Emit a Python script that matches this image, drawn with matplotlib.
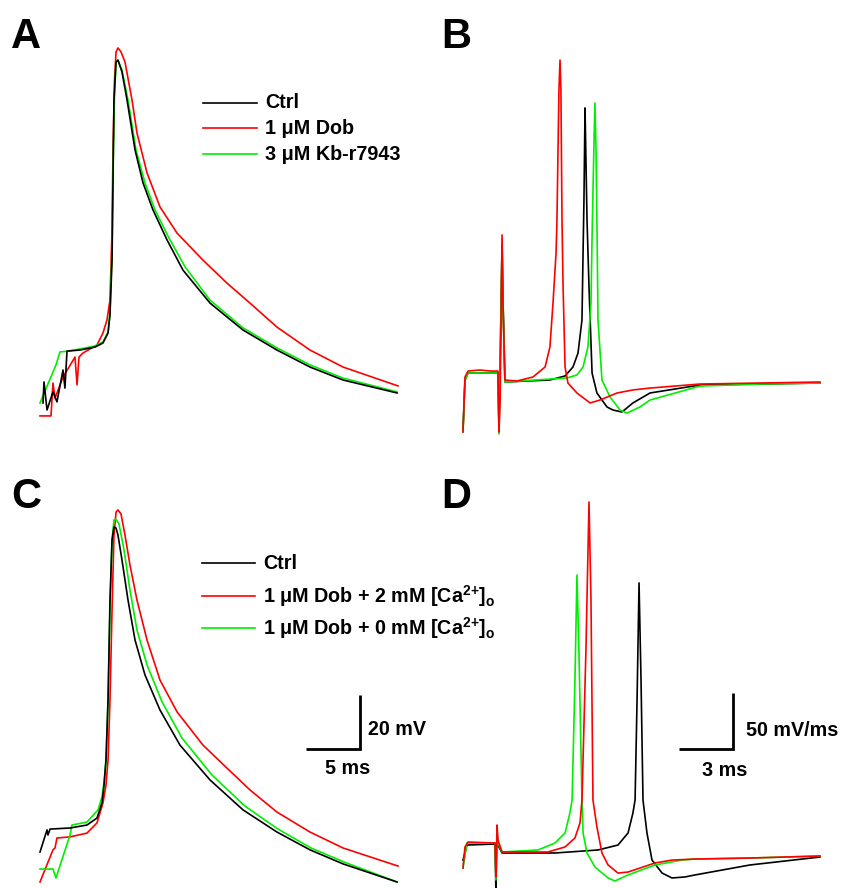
import matplotlib
matplotlib.use("Agg")
import matplotlib.pyplot as plt
from matplotlib.lines import Line2D

plt.rcParams['font.family'] = ['Liberation Sans', 'DejaVu Sans']
plt.rcParams['font.weight'] = 'bold'
plt.rcParams['mathtext.fontset'] = 'custom'
plt.rcParams['mathtext.rm'] = 'Liberation Sans:bold'
plt.rcParams['mathtext.it'] = 'Liberation Sans:bold'
plt.rcParams['mathtext.bf'] = 'Liberation Sans:bold'

# ---------------- data (time in ms, membrane potential in mV) ----------------
# Panel A
a_ctrl_t = [0.28, 0.37, 0.65, 1.20, 1.57, 2.13, 2.31, 2.50, 3.70, 5.09, 5.83, 6.30, 6.48, 6.67, 6.76, 6.85,
            7.04, 7.22, 7.59, 8.06, 8.80, 9.54, 10.46, 11.76, 13.24, 15.74, 18.80, 21.94, 25.00, 28.06, 33.06]
a_ctrl_v = [-84.8, -77.0, -87.4, -80.7, -84.4, -72.6, -79.3, -65.6, -65.2, -64.1, -62.6, -58.9, -52.2, -31.9,
            -2.2, 27.4, 41.5, 42.2, 37.8, 27.4, 8.9, -3.3, -13.3, -24.4, -35.6, -47.8, -57.8, -65.2, -71.5,
            -76.3, -81.1]
a_dob_t = [0.0, 1.02, 1.20, 1.39, 2.13, 3.24, 3.43, 3.61, 3.98, 5.28, 5.83, 6.20, 6.48, 6.67, 6.76, 6.90,
           7.04, 7.22, 7.50, 7.87, 8.52, 8.98, 9.91, 11.11, 12.69, 15.09, 17.31, 19.44, 21.94, 25.00, 28.06,
           33.15]
a_dob_v = [-89.6, -89.6, -77.4, -83.0, -75.2, -67.8, -78.1, -67.8, -66.3, -63.3, -58.9, -54.1, -46.7, -20.7,
           8.9, 34.8, 45.2, 46.7, 45.2, 41.5, 27.4, 15.2, 0.4, -12.2, -21.9, -31.9, -40.4, -47.8, -56.7, -65.2,
           -71.5, -78.5]
a_kb_t = [0.0, 1.48, 1.85, 2.59, 3.70, 5.09, 5.83, 6.30, 6.48, 6.67, 6.76, 6.90, 7.04, 7.22, 7.59, 8.15,
          8.89, 9.72, 10.65, 11.94, 13.43, 15.74, 18.80, 21.94, 25.00, 28.06, 33.06]
a_kb_v = [-84.8, -70.7, -65.9, -65.6, -64.8, -63.7, -62.2, -58.5, -51.1, -28.1, 1.5, 29.3, 41.5, 42.2, 38.5,
          27.4, 8.9, -3.3, -13.3, -23.7, -34.4, -46.7, -57.0, -64.4, -70.7, -75.6, -80.7]

# Panel B (time in ms, dV/dt in mV/ms)
b_ctrl_t = [0.0, 0.11, 0.28, 1.94, 2.00, 2.17, 2.22, 2.33, 4.83, 5.67, 6.11, 6.39, 6.61, 6.67, 6.72, 6.78,
            6.83, 6.89, 7.00, 7.17, 7.44, 8.00, 8.33, 8.83, 9.44, 10.39, 13.17, 16.5, 19.83]
b_ctrl_d = [-43.8, 0.9, 7.1, 7.1, -45.5, 121.4, 72.3, -0.9, 0.9, 4.5, 12.5, 25.0, 54.5, 114.3, 161.6, 243.8,
            197.3, 143.8, 83.9, 7.1, -10.7, -23.2, -25.9, -27.7, -19.6, -10.7, -3.6, -2.7, -1.8]
b_dob_t = [0.0, 0.11, 0.28, 0.94, 1.50, 1.94, 2.00, 2.06, 2.17, 2.22, 2.33, 3.00, 3.89, 4.56, 4.83, 5.00,
           5.17, 5.22, 5.33, 5.39, 5.44, 5.50, 5.56, 5.67, 5.83, 6.33, 7.06, 7.61, 8.56, 9.44, 10.39, 13.17,
           16.5, 19.83]
b_dob_d = [-45.5, 3.6, 8.9, 9.8, 8.9, 8.9, -45.5, -17.0, 130.4, 72.3, 0.9, 0.0, 3.6, 12.5, 30.4, 69.6,
           114.3, 143.8, 259.8, 286.6, 259.8, 143.8, 83.9, 12.5, -1.8, -10.7, -19.6, -17.0, -10.7, -8.0,
           -6.3, -2.7, -1.8, -0.9]
b_kb_t = [0.0, 0.11, 0.28, 1.94, 2.00, 2.17, 2.22, 2.33, 5.78, 6.33, 6.67, 6.94, 7.11, 7.17, 7.28, 7.33,
          7.39, 7.44, 7.50, 7.72, 8.17, 8.72, 9.11, 9.83, 10.39, 13.17, 16.5, 19.83]
b_kb_d = [-45.5, 0.9, 7.1, 7.1, -47.3, 123.2, 72.3, -0.9, 2.7, 5.4, 12.5, 30.4, 69.6, 128.6, 215.2, 248.2,
          206.3, 143.8, 54.5, 0.9, -14.3, -25.9, -28.6, -23.2, -17.0, -4.5, -2.7, -1.8]

# Panel C
c_ctrl_t = [0.0, 0.65, 0.74, 0.93, 2.78, 4.35, 5.28, 5.74, 5.93, 6.11, 6.30, 6.48, 6.67, 6.85, 7.04, 7.22,
            7.59, 8.15, 8.80, 9.72, 11.11, 12.96, 15.74, 18.80, 21.94, 25.00, 28.06, 33.06]
c_ctrl_v = [-78.9, -70.7, -72.6, -70.4, -70.0, -68.9, -66.3, -60.7, -54.1, -44.8, -22.6, 14.4, 36.7, 41.5,
            41.1, 38.5, 29.3, 14.4, -0.4, -13.3, -26.3, -39.3, -52.2, -63.3, -71.5, -78.1, -83.3, -90.0]
c_ca2_t = [0.0, 1.20, 1.39, 1.57, 2.78, 4.35, 5.28, 5.83, 6.11, 6.30, 6.48, 6.67, 6.85, 7.04, 7.22, 7.50,
           7.87, 8.33, 8.98, 9.91, 11.11, 12.69, 15.09, 17.31, 19.44, 21.94, 25.00, 28.06, 33.15]
c_ca2_v = [-90.0, -78.1, -77.4, -73.7, -73.3, -71.9, -68.1, -60.7, -54.1, -44.8, -22.6, 10.7, 38.5, 47.0,
           47.8, 46.3, 38.5, 27.4, 14.4, -0.4, -15.2, -27.0, -39.3, -47.8, -55.9, -64.1, -71.5, -77.4, -84.1]
c_ca0_t = [0.0, 1.20, 1.48, 2.78, 2.96, 4.35, 5.37, 5.74, 5.93, 6.11, 6.30, 6.48, 6.67, 6.85, 7.04, 7.31,
           7.78, 8.33, 8.98, 9.91, 11.30, 13.15, 15.93, 18.98, 22.04, 25.09, 28.15, 33.06]
c_ca0_v = [-85.2, -85.2, -88.5, -72.6, -68.9, -67.8, -63.3, -58.5, -53.0, -44.8, -22.6, 10.7, 36.7, 44.1,
           44.4, 42.6, 33.0, 18.1, 3.3, -9.6, -23.3, -36.7, -50.4, -61.9, -70.4, -77.4, -82.6, -90.0]

# Panel D (time in ms, dV/dt in mV/ms)
d_ctrl_t = [0.0, 0.22, 1.78, 1.83, 1.89, 1.94, 2.17, 5.11, 7.50, 8.61, 9.17, 9.44, 9.56, 9.67, 9.78, 9.89,
            10.00, 10.22, 10.50, 11.06, 11.61, 12.33, 12.89, 15.94, 19.83]
d_ctrl_d = [-6.3, 7.1, 8.0, -35.0, 20.5, 7.1, 0.0, 0.0, 2.7, 7.1, 17.9, 35.7, 47.3, 136.6, 241.1, 154.5,
            47.3, 17.9, -6.3, -17.9, -22.3, -21.4, -19.6, -10.7, -3.6]
d_ca2_t = [0.0, 0.11, 0.28, 1.78, 1.83, 1.89, 1.94, 2.17, 3.28, 4.72, 5.67, 6.22, 6.50, 6.61, 6.83, 7.00,
           7.11, 7.22, 7.44, 7.72, 8.06, 8.61, 9.17, 10.67, 11.61, 12.89, 15.94, 19.83]
d_ca2_d = [-13.4, 5.4, 9.8, 8.9, -21.4, 25.0, 11.6, 0.9, 0.9, 0.9, 5.4, 13.4, 26.8, 47.3, 181.3, 313.4,
           225.9, 47.3, 23.2, 0.0, -10.7, -17.9, -17.0, -8.9, -6.3, -5.4, -4.5, -2.7]
d_ca0_t = [0.0, 0.22, 1.78, 1.83, 1.89, 1.94, 2.17, 4.17, 5.11, 5.67, 5.94, 6.06, 6.22, 6.33, 6.44, 6.61,
           6.67, 6.89, 7.33, 8.06, 8.44, 9.17, 10.67, 12.17, 12.89, 15.94, 19.83]
d_ca0_d = [-13.4, 8.9, 8.9, -24.1, 17.9, 8.9, 0.9, 2.7, 8.9, 17.9, 35.7, 47.3, 154.5, 248.2, 181.3, 47.3,
           17.9, 0.0, -12.5, -22.3, -25.0, -19.6, -10.7, -6.3, -5.4, -4.5, -2.7]

labels_ab = ['Ctrl', '1 \u03bcM Dob', '3 \u03bcM Kb-r7943']
labels_cd = ['Ctrl', '1 \u03bcM Dob + 2 mM [Ca$^{2{+}}$]$_{\\mathregular{o}}$',
             '1 \u03bcM Dob + 0 mM [Ca$^{2{+}}$]$_{\\mathregular{o}}$']
colors = ['#000000', '#ff0000', '#00ee00']
panel_letters = ['A', 'B', 'C', 'D']

# ---------------- layout ----------------
W, H = 846, 888
fig = plt.figure(figsize=(W / 100, H / 100), dpi=100)


def make_ax(box, x_ref, y_ref, v_ref, ppx, ppy):
    x0, y0, x1, y1 = box
    ax = fig.add_axes([x0 / W, 1 - y1 / H, (x1 - x0) / W, (y1 - y0) / H])
    ax.set_xlim((x0 - x_ref) / ppx, (x1 - x_ref) / ppx)
    ax.set_ylim(v_ref + (y_ref - y1) / ppy, v_ref + (y_ref - y0) / ppy)
    ax.axis('off')
    return ax


axA = make_ax((30, 30, 410, 440), 40, 390, -80, 10.8, 2.7)
axB = make_ax((455, 30, 846, 440), 463, 381, 0, 18, 1.12)
axC = make_ax((30, 495, 410, 888), 40, 855, -80, 10.8, 2.7)
axD = make_ax((455, 495, 846, 888), 463, 853, 0, 18, 1.12)

lw = 1.2
A_series = [(a_ctrl_t, a_ctrl_v), (a_dob_t, a_dob_v), (a_kb_t, a_kb_v)]
B_series = [(b_ctrl_t, b_ctrl_d), (b_dob_t, b_dob_d), (b_kb_t, b_kb_d)]
C_series = [(c_ctrl_t, c_ctrl_v), (c_ca2_t, c_ca2_v), (c_ca0_t, c_ca0_v)]
D_series = [(d_ctrl_t, d_ctrl_d), (d_ca2_t, d_ca2_d), (d_ca0_t, d_ca0_d)]

for ax, series in [(axA, A_series), (axB, B_series), (axC, C_series), (axD, D_series)]:
    for i in [1, 2, 0] if ax in (axA, axC) else [0, 2, 1]:
        t, v = series[i]
        ax.plot(t, v, color=colors[i], lw=lw, solid_joinstyle='round')

# panel letters
for letter, (px, py) in zip(panel_letters, [(11, 48), (441, 48), (11, 508), (441, 508)]):
    fig.text(px / W, 1 - py / H, letter, fontsize=30, fontweight='bold', ha='left', va='baseline')

FS = 14.2


def legend(labels, x0, x1, xt, ys):
    for lab, c, y in zip(labels, colors, ys):
        fig.add_artist(Line2D([x0 / W, x1 / W], [1 - y / H, 1 - y / H], color=c, lw=1.2))
        fig.text(xt / W, 1 - y / H, lab, fontsize=FS, fontweight='bold', va='center', ha='left')


legend(labels_ab, 203, 257, 265, [103, 128, 154])
legend(labels_cd, 202, 255, 263, [563, 596, 628])

# scale bars
axC.plot([24.63, 29.63, 29.63], [-40.74, -40.74, -20.74], color='k', lw=2.0, solid_capstyle='butt',
         solid_joinstyle='miter')
axC.text(28.5, -47.8, '5 ms', fontsize=FS, fontweight='bold', ha='center', va='center')
axC.text(30.4, -33.7, '20 mV', fontsize=FS, fontweight='bold', ha='left', va='center')

axD.plot([12.0, 15.0, 15.0], [92.9, 92.9, 142.9], color='k', lw=2.0, solid_capstyle='butt',
         solid_joinstyle='miter')
axD.text(14.56, 74.1, '3 ms', fontsize=FS, fontweight='bold', ha='center', va='center')
axD.text(15.7, 109.8, '50 mV/ms', fontsize=FS, fontweight='bold', ha='left', va='center')

fig.savefig('out.png', dpi=100)
